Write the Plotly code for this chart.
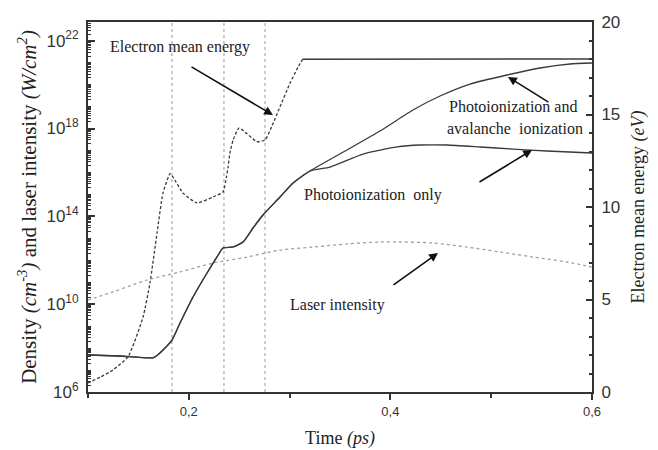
import plotly.graph_objects as go

# ---------------- data ----------------
# shared density curve (both models coincide up to ~0.32 ps), cm^-3
time_shared = [0.100, 0.1317, 0.1645, 0.1694, 0.1744, 0.1833, 0.1913, 0.2042, 0.2181, 0.2280,
               0.2339, 0.2438, 0.2538, 0.2637, 0.2736, 0.2905, 0.3034, 0.3202]
density_shared = [4.84e7, 4.36e7, 3.6e7, 5.0e7, 8.17e7, 2.33e8, 1.39e9, 2.12e10, 2.62e11, 1.41e12,
                  3.61e12, 4.02e12, 6.78e12, 2.94e13, 1.15e14, 7.59e14, 3.29e15, 1.16e16]

# photoionization and avalanche ionization
time_avalanche = [0.3569, 0.3897, 0.4224, 0.4492, 0.4790, 0.5157, 0.5484, 0.5782, 0.600]
density_avalanche = [1.05e17, 7.67e17, 6.95e18, 3.01e19, 1.06e20, 2.73e20, 5.69e20, 8.65e20, 9.60e20]

# photoionization only
time_photo = [0.3401, 0.3728, 0.4065, 0.4294, 0.4562, 0.4889, 0.5216, 0.5554, 0.600]
density_photo = [1.76e16, 6.89e16, 1.44e17, 1.77e17, 1.77e17, 1.44e17, 1.16e17, 9.44e16, 7.66e16]

# laser intensity (W/cm^2)
time_laser = [0.100, 0.1248, 0.1585, 0.1913, 0.2240, 0.2577, 0.2905, 0.3232, 0.3569,
              0.3897, 0.4095, 0.4423, 0.4760, 0.5087, 0.5415, 0.5752, 0.600]
laser_intensity = [1.55e10, 3.61e10, 1.26e11, 2.93e11, 7.48e11, 1.40e12, 2.91e12, 3.98e12, 5.56e12,
                   6.79e12, 6.79e12, 6.08e12, 3.98e12, 2.38e12, 1.40e12, 8.32e11, 4.90e11]

# electron mean energy (eV), rising part and saturation plateau
energy_time = [0.100, 0.112, 0.125, 0.1397, 0.1546, 0.1615, 0.1685, 0.1744, 0.1814, 0.1843,
               0.1942, 0.2081, 0.2240, 0.2339, 0.2374, 0.2390, 0.2407, 0.2440, 0.2497, 0.2574,
               0.2674, 0.2756, 0.2822, 0.2905, 0.3004, 0.3086, 0.3129]
energy_ev = [0.49, 0.80, 1.2, 1.9, 4.05, 5.9, 8.6, 10.76, 11.8, 11.62,
             10.76, 10.22, 10.54, 10.81, 11.64, 12.18, 12.90, 13.62, 14.27, 13.98,
             13.53, 13.62, 14.34, 15.42, 16.69, 17.58, 17.98]
plateau_time = [0.3129, 0.600]
plateau_ev = [17.98, 18.0]

# dotted vertical reference times (ps)
marker_times = [0.1833, 0.2349, 0.2756]

x_tickvals = [0.2, 0.4, 0.6]
x_ticktext = ["0,2", "0,4", "0,6"]
x_minorvals = [0.1, 0.3, 0.5]
y_tickvals = [1e6, 1e10, 1e14, 1e18, 1e22]
y_ticktext = ["10<sup>6</sup>", "10<sup>10</sup>", "10<sup>14</sup>", "10<sup>18</sup>", "10<sup>22</sup>"]

SERIF = "Liberation Serif, Times New Roman, serif"
SANS = "Liberation Sans, Arial, sans-serif"
DARK = "#3a3a3a"

fig = go.Figure()

fig.add_trace(go.Scatter(x=time_laser, y=laser_intensity, mode="lines",
                         line=dict(color="#a0a0a0", width=1.3, dash="dot", shape="spline", smoothing=0.8),
                         showlegend=False))
fig.add_trace(go.Scatter(x=time_shared + time_avalanche, y=density_shared + density_avalanche, mode="lines",
                         line=dict(color=DARK, width=1.3, shape="spline", smoothing=0.5),
                         showlegend=False))
fig.add_trace(go.Scatter(x=time_shared + time_photo, y=density_shared + density_photo, mode="lines",
                         line=dict(color=DARK, width=1.3, shape="spline", smoothing=0.5),
                         showlegend=False))
fig.add_trace(go.Scatter(x=energy_time, y=energy_ev, mode="lines", yaxis="y2",
                         line=dict(color=DARK, width=1.3, dash="3px,2px", shape="spline", smoothing=0.5),
                         showlegend=False))
fig.add_trace(go.Scatter(x=plateau_time, y=plateau_ev, mode="lines", yaxis="y2",
                         line=dict(color=DARK, width=1.5), showlegend=False))

for t in marker_times:
    fig.add_shape(type="line", xref="x", yref="paper", x0=t, x1=t, y0=0, y1=1,
                  line=dict(color="#9a9a9a", width=1, dash="dot"), layer="below")

ann_font = dict(family=SERIF, size=16, color="#222")
texts = [
    ("Electron mean energy", 0.1913, 18.65),
    ("Photoionization and", 0.5216, 15.41),
    ("avalanche  ionization", 0.5241, 14.27),
    ("Photoionization  only", 0.3827, 10.65),
    ("Laser intensity", 0.3475, 4.70),
]
for txt, x, y in texts:
    fig.add_annotation(x=x, y=y, xref="x", yref="y2", text=txt, showarrow=False, font=ann_font)

arrows = [
    (0.2835, 14.97, 0.2012, 17.62),
    (0.5167, 17.03, 0.5583, 15.62),
    (0.5405, 13.08, 0.4869, 11.30),
    (0.4472, 7.51, 0.4016, 5.73),
]
for hx, hy, tx, ty in arrows:
    fig.add_annotation(x=hx, y=hy, xref="x", yref="y2", ax=tx, ay=ty, axref="x", ayref="y2",
                       text="", showarrow=True, arrowhead=2, arrowsize=1.1, arrowwidth=1.6,
                       arrowcolor="#111")

fig.update_layout(
    width=658, height=450,
    margin=dict(l=88, r=66, t=22, b=58),
    paper_bgcolor="white", plot_bgcolor="white",
    showlegend=False,
    xaxis=dict(
        range=[0.1, 0.6], showgrid=False, zeroline=False, automargin=False,
        showline=True, linecolor="#333", linewidth=2, mirror=True,
        tickmode="array", tickvals=x_tickvals, ticktext=x_ticktext,
        ticks="outside", ticklen=6, tickwidth=1.5, tickcolor="#333",
        minor=dict(tickmode="array", tickvals=x_minorvals, ticks="outside", ticklen=4, tickwidth=1.5, tickcolor="#333"),
        tickfont=dict(family=SANS, size=13, color="#333"),
        title=dict(text="Time <i>(ps)</i>", font=dict(family=SERIF, size=18, color="#222"), standoff=14),
    ),
    yaxis=dict(
        type="log", range=[6, 22.85], showgrid=False, zeroline=False, automargin=False,
        showline=True, linecolor="#333", linewidth=2,
        tickmode="array", tickvals=y_tickvals, ticktext=y_ticktext,
        ticks="inside", ticklen=7, tickwidth=1.5, tickcolor="#333",
        minor=dict(dtick="D1", ticks="inside", ticklen=3, tickwidth=1, tickcolor="#333"),
        tickfont=dict(family=SANS, size=17, color="#333"),
        ticklabelstandoff=4,
        title=dict(text="Density <i>(cm<sup>-3</sup>)</i> and laser intensity <i>(W/cm<sup>2</sup>)</i>",
                   font=dict(family=SERIF, size=21, color="#222"), standoff=4),
    ),
    yaxis2=dict(
        overlaying="y", side="right", range=[0, 20], showgrid=False, zeroline=False, automargin=False,
        showline=True, linecolor="#333", linewidth=2,
        tickmode="linear", tick0=0, dtick=5,
        ticks="inside", ticklen=6, tickwidth=1.5, tickcolor="#333",
        minor=dict(dtick=1, ticks="inside", ticklen=3, tickwidth=1.5, tickcolor="#333"),
        tickfont=dict(family=SANS, size=17, color="#333"),
        ticklabelstandoff=4,
        title=dict(text="Electron mean energy <i>(eV)</i>", font=dict(family=SERIF, size=18, color="#222"), standoff=12),
    ),
)

fig.write_html("out.html")
